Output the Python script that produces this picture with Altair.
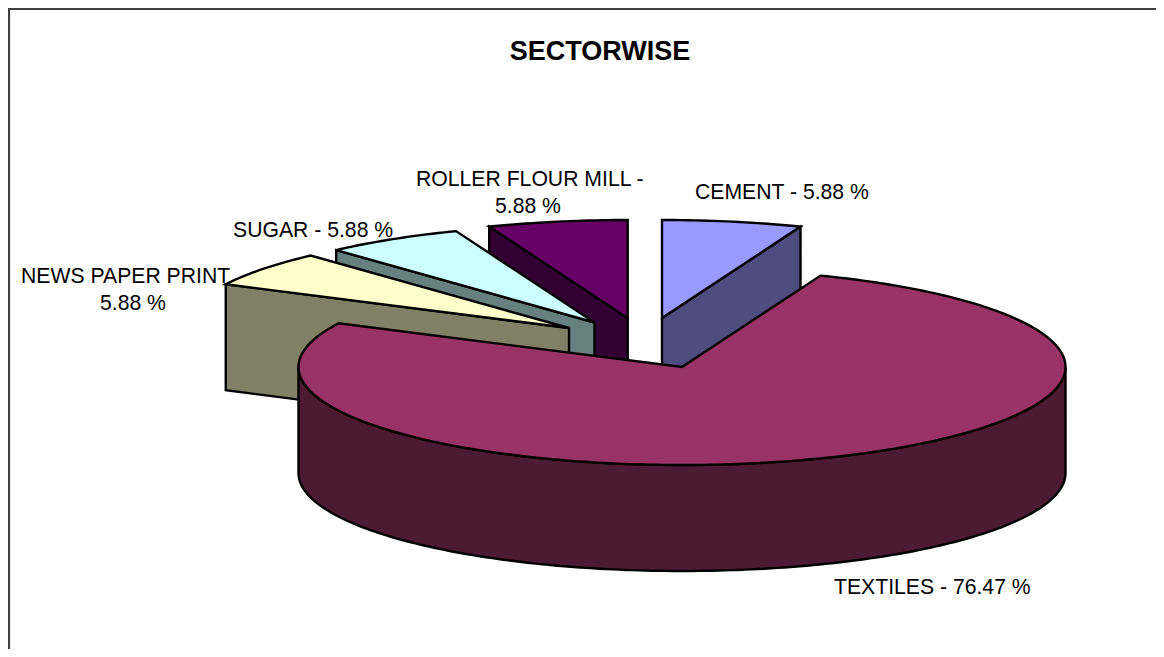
import math
import altair as alt
import pandas as pd

TITLE = "SECTORWISE"
categories = ["CEMENT", "TEXTILES", "NEWS PAPER PRINT", "SUGAR", "ROLLER FLOUR MILL"]
shares = [5.88, 76.47, 5.88, 5.88, 5.88]
top_colors = ["#9999FF", "#993366", "#FFFFCC", "#CCFFFF", "#660066"]
wall_colors = ["#4D4D80", "#4D1A33", "#808066", "#668080", "#330033"]
# where each slice's tip ends up once the pie is exploded (picture units)
tip_x = [662, 682, 569, 594.5, 627.7]
tip_y = [318, 367, 328, 322.5, 318]
RX, RY, DEPTH = 383.5, 98, 106

label_lines = [
    ["CEMENT - 5.88 %"],
    ["TEXTILES - 76.47 %"],
    ["NEWS PAPER PRINT", "5.88 %"],
    ["SUGAR - 5.88 %"],
    ["ROLLER FLOUR MILL -", "5.88 %"],
]
label_x = [[695], [834], [21, 100], [233], [416, 495]]
label_y = [[199], [594], [283, 310], [237], [186, 213]]

X = alt.X("x:Q", axis=None, scale=alt.Scale(domain=[8, 1156], nice=False, zero=False))
Y = alt.Y("y:Q", axis=None, scale=alt.Scale(domain=[649, 8], nice=False, zero=False))


def pt(i, deg, dz=0):
    a = math.radians(deg)
    return tip_x[i] + RX * math.sin(a), tip_y[i] - RY * math.cos(a) + dz


def arc(i, a0, a1, dz=0):
    n = max(2, int(abs(a1 - a0)) + 1)
    return [pt(i, a0 + (a1 - a0) * k / n, dz) for k in range(n + 1)]


def poly(points, fill, sw=2.4):
    df = pd.DataFrame(points, columns=["x", "y"])
    df["k"] = range(len(df))
    return (
        alt.Chart(df)
        .mark_line(interpolate="linear-closed", filled=True, fill=fill, stroke="black",
                   strokeWidth=sw, strokeJoin="miter", clip=False)
        .encode(x=X, y=Y, order="k:Q")
    )


total = sum(shares)
spans = [s / total * 360 for s in shares]
start = [sum(spans[:i]) for i in range(len(spans))]
end = [start[i] + spans[i] for i in range(len(spans))]

layers = []

# frame
frame = pd.DataFrame({"x": [9, 9, 1156], "y": [649, 9, 9], "k": [0, 1, 2]})
layers.append(alt.Chart(frame).mark_line(color="#404040", strokeWidth=2.2).encode(x=X, y=Y, order="k:Q"))

# title and labels
layers.append(
    alt.Chart(pd.DataFrame({"x": [600], "y": [60], "t": [TITLE]}))
    .mark_text(font="Liberation Sans", fontSize=27, fontWeight="bold", align="center", baseline="alphabetic", color="black")
    .encode(x=X, y=Y, text="t:N")
)
rows = []
for i in range(len(categories)):
    for t, lx, ly in zip(label_lines[i], label_x[i], label_y[i]):
        rows.append({"x": lx, "y": ly, "t": t})
layers.append(
    alt.Chart(pd.DataFrame(rows))
    .mark_text(font="Liberation Sans", fontSize=21.2, align="left", baseline="alphabetic", color="black")
    .encode(x=X, y=Y, text="t:N")
)

# cement: face at its far end
i = 0
tip = (tip_x[i], tip_y[i])
layers.append(poly([tip, pt(i, end[i]), pt(i, end[i], DEPTH), (tip[0], tip[1] + DEPTH)], wall_colors[i]))
layers.append(poly([tip] + arc(i, start[i], end[i]), top_colors[i]))

# back slices, far to near
for i in [4, 3, 2]:
    tip = (tip_x[i], tip_y[i])
    layers.append(poly([tip, pt(i, start[i]), pt(i, start[i], DEPTH), (tip[0], tip[1] + DEPTH)], wall_colors[i]))
    layers.append(poly([tip] + arc(i, start[i], end[i]), top_colors[i]))

# textiles
i = 1
tip = (tip_x[i], tip_y[i])
layers.append(poly(arc(i, 90, 270) + arc(i, 270, 90, DEPTH), wall_colors[i]))
layers.append(poly([tip] + arc(i, start[i], end[i]), top_colors[i]))

chart = (
    alt.layer(*layers)
    .properties(width=1148, height=641, padding=0, autosize=alt.AutoSizeParams(type="none"))
    .configure_view(stroke=None)
)
chart.save("out.html", embed_options={"renderer": "svg", "actions": False})
